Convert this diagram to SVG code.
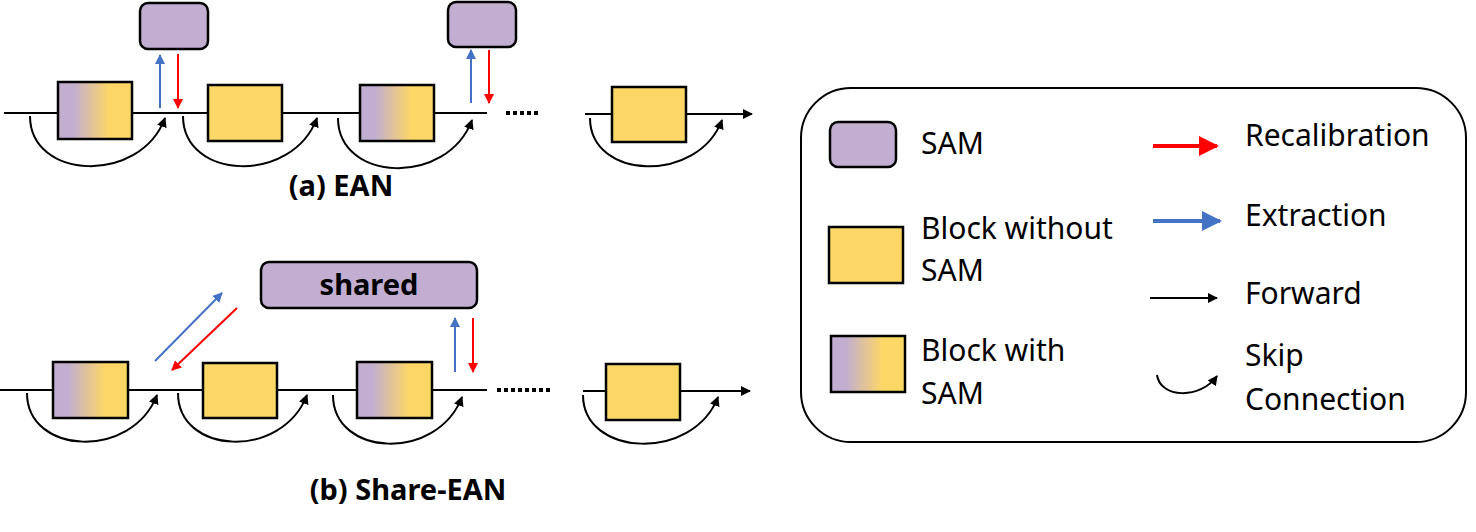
<svg xmlns="http://www.w3.org/2000/svg" width="1476" height="532" viewBox="0 0 1476 532">
<defs>
<linearGradient id="g" x1="0" x2="1" y1="0" y2="0"><stop offset="0.2" stop-color="#c1aed1"/><stop offset="0.7" stop-color="#fdd766"/></linearGradient>
<marker id="ab" viewBox="0 0 10 10" refX="9" refY="5" markerWidth="5" markerHeight="5" orient="auto"><path d="M0,0L10,5L0,10z" fill="#000"/></marker>
<marker id="ar" viewBox="0 0 10 10" refX="9" refY="5" markerWidth="5" markerHeight="5" orient="auto"><path d="M0,0L10,5L0,10z" fill="#f00"/></marker>
<marker id="au" viewBox="0 0 10 10" refX="9" refY="5" markerWidth="5" markerHeight="5" orient="auto"><path d="M0,0L10,5L0,10z" fill="#4472c4"/></marker>
</defs>
<style>
.sam{fill:#c1aed1;stroke:#000;stroke-width:2.5}
.y{fill:#fdd766;stroke:#000;stroke-width:2.5}
.gr{fill:url(#g);stroke:#000;stroke-width:2.5}
.l{stroke:#000;stroke-width:2;fill:none}
.sk{stroke:#000;stroke-width:2;fill:none;marker-end:url(#ab)}
.r{stroke:#f00;stroke-width:2;marker-end:url(#ar)}
.b{stroke:#4472c4;stroke-width:2;marker-end:url(#au)}
.t{font-family:"Noto Sans","Open Sans",sans-serif;font-size:30px;fill:#000}
.h{font-family:"Noto Sans","Open Sans",sans-serif;font-size:29px;font-weight:bold;fill:#000}
.d{stroke:#000;stroke-width:4;stroke-dasharray:4 3}
</style>
<g id="connectors">
<line class="l" x1="4" y1="113" x2="487" y2="113"/>
<line class="d" x1="506" y1="113" x2="540" y2="113"/>
<line class="sk" x1="585" y1="114" x2="752" y2="114"/>
<path class="sk" d="M30,116 C30,180 140,185 165,118"/>
<path class="sk" d="M183,116 C183,180 292,185 317,118"/>
<path class="sk" d="M338,118 C338,182 447,187 472,120"/>
<path class="sk" d="M590,118 C590,180 698,184 722,120"/>
<line class="b" x1="160" y1="108" x2="160" y2="55"/>
<line class="r" x1="178" y1="54" x2="178" y2="108"/>
<line class="b" x1="471" y1="103" x2="471" y2="50"/>
<line class="r" x1="489" y1="50" x2="489" y2="103"/>
<line class="l" x1="0" y1="390" x2="487" y2="390"/>
<line class="d" x1="497" y1="390" x2="553" y2="390"/>
<line class="sk" x1="583" y1="391" x2="750" y2="391"/>
<path class="sk" d="M27,393 C27,455 132,460 157,395"/>
<path class="sk" d="M178,393 C178,455 282,460 307,395"/>
<path class="sk" d="M333,395 C333,457 437,462 462,397"/>
<path class="sk" d="M583,395 C583,457 693,462 718,397"/>
<line class="b" x1="155" y1="361" x2="222" y2="293"/>
<line class="r" x1="237" y1="308" x2="172" y2="370"/>
<line class="b" x1="455" y1="372" x2="455" y2="318"/>
<line class="r" x1="473" y1="318" x2="473" y2="372"/>
</g>
<g id="a-block1"><rect class="gr" x="58" y="82" width="74" height="57"/></g>
<g id="a-sam1"><rect class="sam" x="140" y="3" width="68" height="46" rx="8"/></g>
<g id="a-block2"><rect class="y" x="208" y="85" width="74" height="56"/></g>
<g id="a-block3"><rect class="gr" x="360" y="85" width="74" height="56"/></g>
<g id="a-sam2"><rect class="sam" x="448" y="2" width="68" height="45" rx="8"/></g>
<g id="a-block4"><rect class="y" x="612" y="87" width="74" height="55"/></g>
<text class="h" x="341" y="196" text-anchor="middle">(a) EAN</text>
<g id="b-block1"><rect class="gr" x="53" y="362" width="75" height="56"/></g>
<g id="b-block2"><rect class="y" x="203" y="363" width="74" height="55"/></g>
<g id="b-block3"><rect class="gr" x="357" y="362" width="75" height="56"/></g>
<g id="b-block4"><rect class="y" x="606" y="364" width="74" height="56"/></g>
<g id="b-shared"><rect class="sam" x="261" y="262" width="216" height="46" rx="8"/><text class="h" x="369" y="295" text-anchor="middle">shared</text></g>
<text class="h" x="408" y="500" text-anchor="middle">(b) Share-EAN</text>
<g id="legend">
<rect x="801" y="88" width="665" height="354" rx="50" fill="#fff" stroke="#000" stroke-width="2"/>
<rect class="sam" x="830" y="122" width="66" height="45" rx="8"/>
<text class="t" x="921" y="154">SAM</text>
<rect class="y" x="829" y="227" width="74" height="56"/>
<text class="t" x="921" y="239">Block without</text>
<text class="t" x="921" y="281">SAM</text>
<rect class="gr" x="831" y="336" width="74" height="56"/>
<text class="t" x="921" y="361">Block with</text>
<text class="t" x="921" y="404">SAM</text>
<line x1="1153" y1="146" x2="1217" y2="146" stroke="#f00" stroke-width="4" marker-end="url(#ar)"/>
<text class="t" x="1245" y="146">Recalibration</text>
<line x1="1153" y1="221" x2="1220" y2="221" stroke="#4472c4" stroke-width="4" marker-end="url(#au)"/>
<text class="t" x="1245" y="226">Extraction</text>
<line class="sk" x1="1150" y1="298" x2="1217" y2="298"/>
<text class="t" x="1245" y="304">Forward</text>
<path class="sk" d="M1157,375 C1160,398 1200,400 1217,376"/>
<text class="t" x="1245" y="366">Skip</text>
<text class="t" x="1245" y="410">Connection</text>
</g>
</svg>
